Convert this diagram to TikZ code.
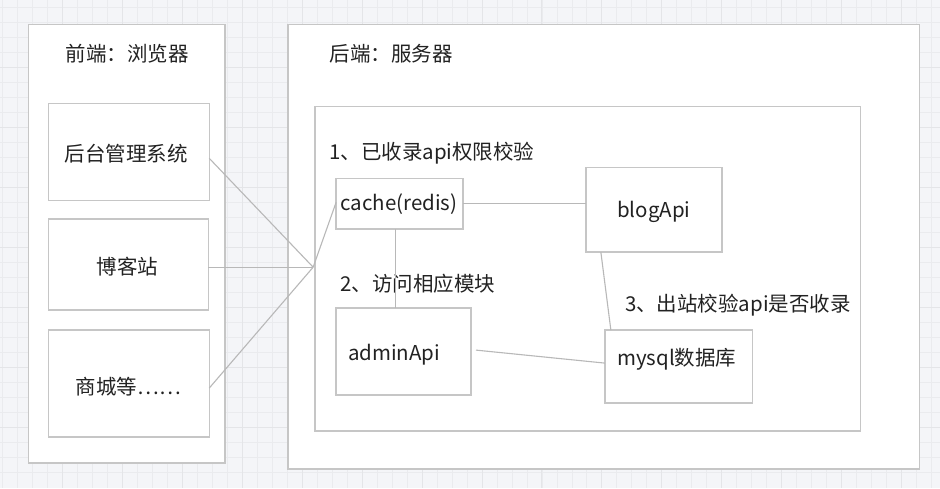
\documentclass[tikz,border=0pt]{standalone}
\usepackage{fontspec}
\setmainfont{Noto Sans CJK SC}
\usepackage{xcolor}
\usepackage{tikz}
\usetikzlibrary{positioning,calc}

\definecolor{bgcol}{HTML}{F4F5F8}
\definecolor{gridcol}{HTML}{EAEBEE}
\definecolor{gridmajor}{HTML}{E4E5E8}
\definecolor{edgecol}{HTML}{C6C6C6}
\definecolor{linkcol}{HTML}{B8B8B8}
\definecolor{txtcol}{HTML}{222222}

\begin{document}
\begin{tikzpicture}[x=1pt,y=-1pt,
  box/.style={draw=edgecol,line width=1.5pt,fill=white,inner sep=0pt,outer sep=0pt},
  link/.style={draw=linkcol,line width=1.1pt},
  txt/.style={text=txtcol,font=\fontsize{20.5}{24}\selectfont,inner sep=0pt}]
  % background grid
  \fill[bgcol] (0,0) rectangle (940,488);
  \foreach \gx in {2,17,...,932} \draw[gridcol,line width=0.8pt] (\gx,0)--(\gx,488);
  \foreach \gy in {7,22,...,482} \draw[gridcol,line width=0.8pt] (0,\gy)--(940,\gy);
  \foreach \gx in {62,122,...,932} \draw[gridmajor,line width=0.9pt] (\gx,0)--(\gx,488);
  \foreach \gy in {67,127,...,482} \draw[gridmajor,line width=0.9pt] (0,\gy)--(940,\gy);
  % containers
  \node[box,minimum width=197,minimum height=439] (front) at (126.5,243.5) {};
  \node[box,minimum width=632,minimum height=445] (back) at (604,246.5) {};
  \node[box,minimum width=546,minimum height=325] (inner) at (588,268.5) {};
  \node[txt] (fronttitle) at (127,53) {前端：浏览器};
  \node[txt] (backtitle) at (391,53) {后端：服务器};
  % browser side
  \node[box,minimum width=161,minimum height=97] (sys) at (128.5,151.5) {};
  \node[box,minimum width=160,minimum height=91] (blog) at (128,264.5) {};
  \node[box,minimum width=161,minimum height=107] (mall) at (128.5,383.5) {};
  \node[txt] (systxt) at (126,153) {后台管理系统};
  \node[txt] (blogtxt) at (127,266) {博客站};
  \node[txt] (malltxt) at (128,387) {商城等……};
  % server side
  \node[box,minimum width=127,minimum height=51] (cache) at (399.5,203.5) {};
  \node[box,minimum width=136,minimum height=85] (blogapi) at (654,209.5) {};
  \node[box,minimum width=135,minimum height=87] (admin) at (403.5,351.5) {};
  \node[box,minimum width=148,minimum height=73] (mysql) at (679,366.5) {};
  \node[txt] (cachetxt) at (399,204) {cache(redis)};
  \node[txt] (blogapitxt) at (654,212) {blogApi};
  \node[txt] (admintxt) at (394,355) {adminApi};
  \node[txt] (mysqltxt) at (677,359) {mysql数据库};
  \node[txt,anchor=west] (step1) at (329,153) {1、已收录api权限校验};
  \node[txt,anchor=west] (step2) at (340,284) {2、访问相应模块};
  \node[txt,anchor=west] (step3) at (625,305) {3、出站校验api是否收录};
  % connectors
  \coordinate (hub) at (313,267);
  \draw[link] ([yshift=-6.5pt]sys.east) -- (hub);
  \draw[link] ([yshift=-2.5pt]blog.east) -- (hub);
  \draw[link] ([yshift=-4.5pt]mall.east) -- (hub);
  \draw[link] (hub) -- ([yshift=1.5pt]cache.west);
  \draw[link] (cache.east) -- (cache.east -| blogapi.west);
  \draw[link] ([xshift=-4.5pt]cache.south) -- ([xshift=-4.5pt]cache.south |- admin.north);
  \draw[link] ([xshift=15pt]blogapi.south west) -- ([xshift=6pt]mysql.north west);
  \draw[link] ([xshift=5pt,yshift=1.5pt]admin.east) -- ([yshift=3.5pt]mysql.west);
\end{tikzpicture}
\end{document}
